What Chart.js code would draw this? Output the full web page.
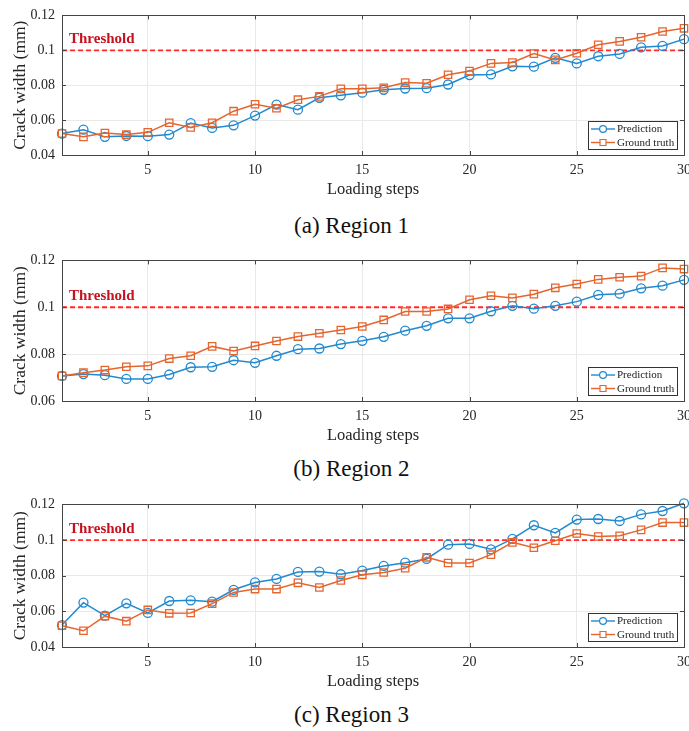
<!DOCTYPE html>
<html>
<head>
<meta charset="utf-8">
<title>Crack width: prediction vs ground truth</title>
<script src="https://cdn.jsdelivr.net/npm/chart.js@4.4.1/dist/chart.umd.min.js"></script>
<style>
  html, body { margin: 0; padding: 0; background: #fff; }
  body {
    width: 689px; height: 731px; overflow: hidden; position: relative;
    font-family: 'Liberation Serif', 'Times New Roman', serif;
  }
  .panel { position: absolute; left: 0; }
  .caption {
    position: absolute; left: 0; width: 703px; text-align: center;
    font-size: 23px; line-height: 23px; color: #111;
  }
</style>
</head>
<body>
<canvas id="region1" class="panel" width="700" height="200" style="top:0px"></canvas>
<div class="caption" style="top:214px">(a) Region 1</div>

<canvas id="region2" class="panel" width="700" height="201" style="top:245px"></canvas>
<div class="caption" style="top:457px">(b) Region 2</div>

<canvas id="region3" class="panel" width="700" height="203" style="top:489px"></canvas>
<div class="caption" style="top:703px">(c) Region 3</div>

<script>
// loading steps (x axis)
const steps = [1, 2, 3, 4, 5, 6, 7, 8, 9, 10, 11, 12, 13, 14, 15,
               16, 17, 18, 19, 20, 21, 22, 23, 24, 25, 26, 27, 28, 29, 30];
const xTicks = [5, 10, 15, 20, 25, 30];
const threshold = 0.1;

// Region 1
const predRegion1 = [0.0523, 0.0545, 0.0504, 0.0509, 0.0508, 0.0517, 0.0583, 0.0555, 0.0570, 0.0626,
                     0.0689, 0.0660, 0.0728, 0.0742, 0.0757, 0.0774, 0.0781, 0.0783, 0.0804, 0.0858,
                     0.0862, 0.0908, 0.0906, 0.0957, 0.0925, 0.0966, 0.0979, 0.1017, 0.1025, 0.1064];
const truthRegion1 = [0.0523, 0.0504, 0.0526, 0.0517, 0.0530, 0.0585, 0.0558, 0.0585, 0.0651, 0.0691,
                      0.0668, 0.0717, 0.0736, 0.0779, 0.0779, 0.0785, 0.0815, 0.0811, 0.0860, 0.0881,
                      0.0925, 0.0930, 0.0981, 0.0945, 0.0983, 0.1032, 0.1051, 0.1075, 0.1108, 0.1126];
const yTicksRegion1 = [0.04, 0.06, 0.08, 0.1, 0.12];

// Region 2
const predRegion2 = [0.0707, 0.0715, 0.0710, 0.0694, 0.0694, 0.0713, 0.0744, 0.0746, 0.0774, 0.0763,
                     0.0793, 0.0821, 0.0824, 0.0843, 0.0857, 0.0874, 0.0900, 0.0921, 0.0953, 0.0953,
                     0.0983, 0.1006, 0.0994, 0.1006, 0.1024, 0.1053, 0.1058, 0.1081, 0.1092, 0.1117];
const truthRegion2 = [0.0707, 0.0721, 0.0732, 0.0746, 0.0750, 0.0781, 0.0793, 0.0833, 0.0813, 0.0835,
                      0.0856, 0.0875, 0.0889, 0.0903, 0.0918, 0.0946, 0.0982, 0.0982, 0.0993, 0.1032,
                      0.1049, 0.1040, 0.1056, 0.1083, 0.1099, 0.1119, 0.1128, 0.1133, 0.1168, 0.1163];
const yTicksRegion2 = [0.06, 0.08, 0.1, 0.12];

// Region 3
const predRegion3 = [0.0523, 0.0649, 0.0576, 0.0645, 0.0591, 0.0658, 0.0662, 0.0654, 0.0721, 0.0762,
                     0.0782, 0.0821, 0.0823, 0.0808, 0.0829, 0.0855, 0.0873, 0.0894, 0.0974, 0.0978,
                     0.0948, 0.1007, 0.1083, 0.1040, 0.1115, 0.1118, 0.1107, 0.1144, 0.1163, 0.1206];
const truthRegion3 = [0.0519, 0.0491, 0.0573, 0.0545, 0.0608, 0.0589, 0.0591, 0.0643, 0.0706, 0.0725,
                      0.0725, 0.0760, 0.0734, 0.0773, 0.0805, 0.0818, 0.0842, 0.0903, 0.0871, 0.0871,
                      0.0918, 0.0987, 0.0957, 0.0996, 0.1037, 0.1020, 0.1024, 0.1057, 0.1098, 0.1098];
const yTicksRegion3 = [0.04, 0.06, 0.08, 0.1, 0.12];

const blue = '#2189d0';
const orange = '#e5652f';
const textColor = '#262626';
const gridColor = '#e9e9e9';
const fontFamily = "'Liberation Serif', 'Times New Roman', serif";

Chart.defaults.font.family = fontFamily;

// axes box with small inward ticks, like the original figure
const matlabBox = {
    id: 'matlabBox',
    afterDatasetsDraw(chart) {
        const { ctx, chartArea: a, scales } = chart;
        ctx.save();
        ctx.strokeStyle = '#454545';
        ctx.lineWidth = 1;
        scales.x.ticks.forEach(t => {
            const px = Math.round(scales.x.getPixelForValue(t.value)) + 0.5;
            ctx.beginPath();
            ctx.moveTo(px, a.bottom); ctx.lineTo(px, a.bottom - 4);
            ctx.moveTo(px, a.top); ctx.lineTo(px, a.top + 4);
            ctx.stroke();
        });
        scales.y.ticks.forEach(t => {
            const py = Math.round(scales.y.getPixelForValue(t.value)) + 0.5;
            ctx.beginPath();
            ctx.moveTo(a.left, py); ctx.lineTo(a.left + 4, py);
            ctx.moveTo(a.right, py); ctx.lineTo(a.right - 4, py);
            ctx.stroke();
        });
        ctx.strokeRect(Math.round(a.left) + 0.5, Math.round(a.top) + 0.5,
                       Math.round(a.right - a.left), Math.round(a.bottom - a.top));
        ctx.restore();
    }
};

const thresholdLabel = {
    id: 'thresholdLabel',
    afterDatasetsDraw(chart) {
        const { ctx, scales } = chart;
        ctx.save();
        ctx.font = `bold 15px ${fontFamily}`;
        ctx.fillStyle = '#c4121f';
        ctx.textAlign = 'left';
        ctx.textBaseline = 'alphabetic';
        ctx.fillText('Threshold', scales.x.getPixelForValue(steps[0]) + 7,
                     scales.y.getPixelForValue(threshold) - 7);
        ctx.restore();
    }
};

// legend box drawn inside the plot, lower right
const insideLegend = {
    id: 'insideLegend',
    afterDatasetsDraw(chart) {
        const { ctx, chartArea: a } = chart;
        const items = chart.data.datasets.filter(d => d.label !== 'Threshold');
        ctx.save();
        ctx.font = `11px ${fontFamily}`;
        const textW = Math.max(...items.map(d => ctx.measureText(d.label).width));
        const w = Math.round(28 + textW + 4);
        const h = 28;
        const left = Math.round(a.right - 7 - w);
        const top = Math.round(a.bottom - 6 - h);
        ctx.fillStyle = '#fff';
        ctx.fillRect(left, top, w, h);
        ctx.strokeStyle = '#333';
        ctx.lineWidth = 1;
        ctx.strokeRect(left + 0.5, top + 0.5, w, h);
        items.forEach((d, i) => {
            const cy = top + 8 + i * 13.5;
            ctx.strokeStyle = d.borderColor;
            ctx.lineWidth = 1.4;
            ctx.beginPath();
            ctx.moveTo(left + 3, cy);
            ctx.lineTo(left + 27, cy);
            ctx.stroke();
            ctx.fillStyle = '#fff';
            ctx.lineWidth = 1.2;
            ctx.beginPath();
            if (d.pointStyle === 'rect') {
                ctx.rect(left + 12, cy - 3, 6, 6);
            } else {
                ctx.arc(left + 15, cy, 3.4, 0, Math.PI * 2);
            }
            ctx.fill();
            ctx.stroke();
            ctx.fillStyle = '#222';
            ctx.textAlign = 'left';
            ctx.textBaseline = 'middle';
            ctx.fillText(d.label, left + 29, cy + 0.5);
        });
        ctx.restore();
    }
};

const toPoints = (values) => steps.map((s, i) => ({ x: s, y: values[i] }));

const makeChart = (canvasId, pred, truth, yTicks) => {
    const config = {
        type: 'line',
        data: {
            datasets: [
                {
                    label: 'Threshold',
                    data: [{ x: steps[0], y: threshold }, { x: steps[steps.length - 1], y: threshold }],
                    borderColor: '#ff2b2b',
                    borderDash: [5, 3],
                    borderWidth: 1.8,
                    pointRadius: 0,
                    order: 3
                },
                {
                    label: 'Prediction',
                    data: toPoints(pred),
                    borderColor: blue,
                    backgroundColor: '#fff',
                    borderWidth: 1.5,
                    pointStyle: 'circle',
                    pointRadius: 4.5,
                    pointBorderWidth: 1.3,
                    pointBackgroundColor: 'rgba(255,255,255,0)',
                    clip: false,
                    order: 2
                },
                {
                    label: 'Ground truth',
                    data: toPoints(truth),
                    borderColor: orange,
                    backgroundColor: '#fff',
                    borderWidth: 1.5,
                    pointStyle: 'rect',
                    pointRadius: 5.2,
                    pointBorderWidth: 1.3,
                    pointBackgroundColor: 'rgba(255,255,255,0)',
                    clip: false,
                    order: 1
                }
            ]
        },
        options: {
            responsive: false,
            animation: false,
            devicePixelRatio: 1,
            layout: { padding: { top: 13, right: 16, bottom: 0, left: 0 } },
            plugins: {
                legend: { display: false },
                tooltip: { enabled: false }
            },
            scales: {
                x: {
                    type: 'linear',
                    min: steps[0],
                    max: steps[steps.length - 1],
                    afterBuildTicks: scale => { scale.ticks = xTicks.map(v => ({ value: v })); },
                    afterFit: scale => { scale.height = 45; },
                    grid: { color: gridColor, drawTicks: false },
                    border: { display: false },
                    ticks: {
                        padding: 7, color: textColor, font: { size: 14 },
                        maxRotation: 0, autoSkip: false
                    },
                    title: {
                        display: true, text: 'Loading steps', color: textColor,
                        font: { size: 16.5 }, padding: { top: 0, bottom: 0 }
                    }
                },
                y: {
                    type: 'linear',
                    min: yTicks[0],
                    max: yTicks[yTicks.length - 1],
                    afterBuildTicks: scale => { scale.ticks = yTicks.map(v => ({ value: v })); },
                    afterFit: scale => { scale.width = 62; },
                    grid: { color: gridColor, drawTicks: false },
                    border: { display: false },
                    ticks: {
                        padding: 7, color: textColor, font: { size: 14 },
                        callback: value => String(value)
                    },
                    title: {
                        display: true, text: 'Crack width (mm)', color: textColor,
                        font: { size: 17.5 }, padding: { top: 10, bottom: 0 }
                    }
                }
            }
        },
        plugins: [matlabBox, thresholdLabel, insideLegend]
    };

    const ctx = document.getElementById(canvasId).getContext('2d');
    return new Chart(ctx, config);
};

makeChart('region1', predRegion1, truthRegion1, yTicksRegion1);
makeChart('region2', predRegion2, truthRegion2, yTicksRegion2);
makeChart('region3', predRegion3, truthRegion3, yTicksRegion3);
</script>
</body>
</html>
